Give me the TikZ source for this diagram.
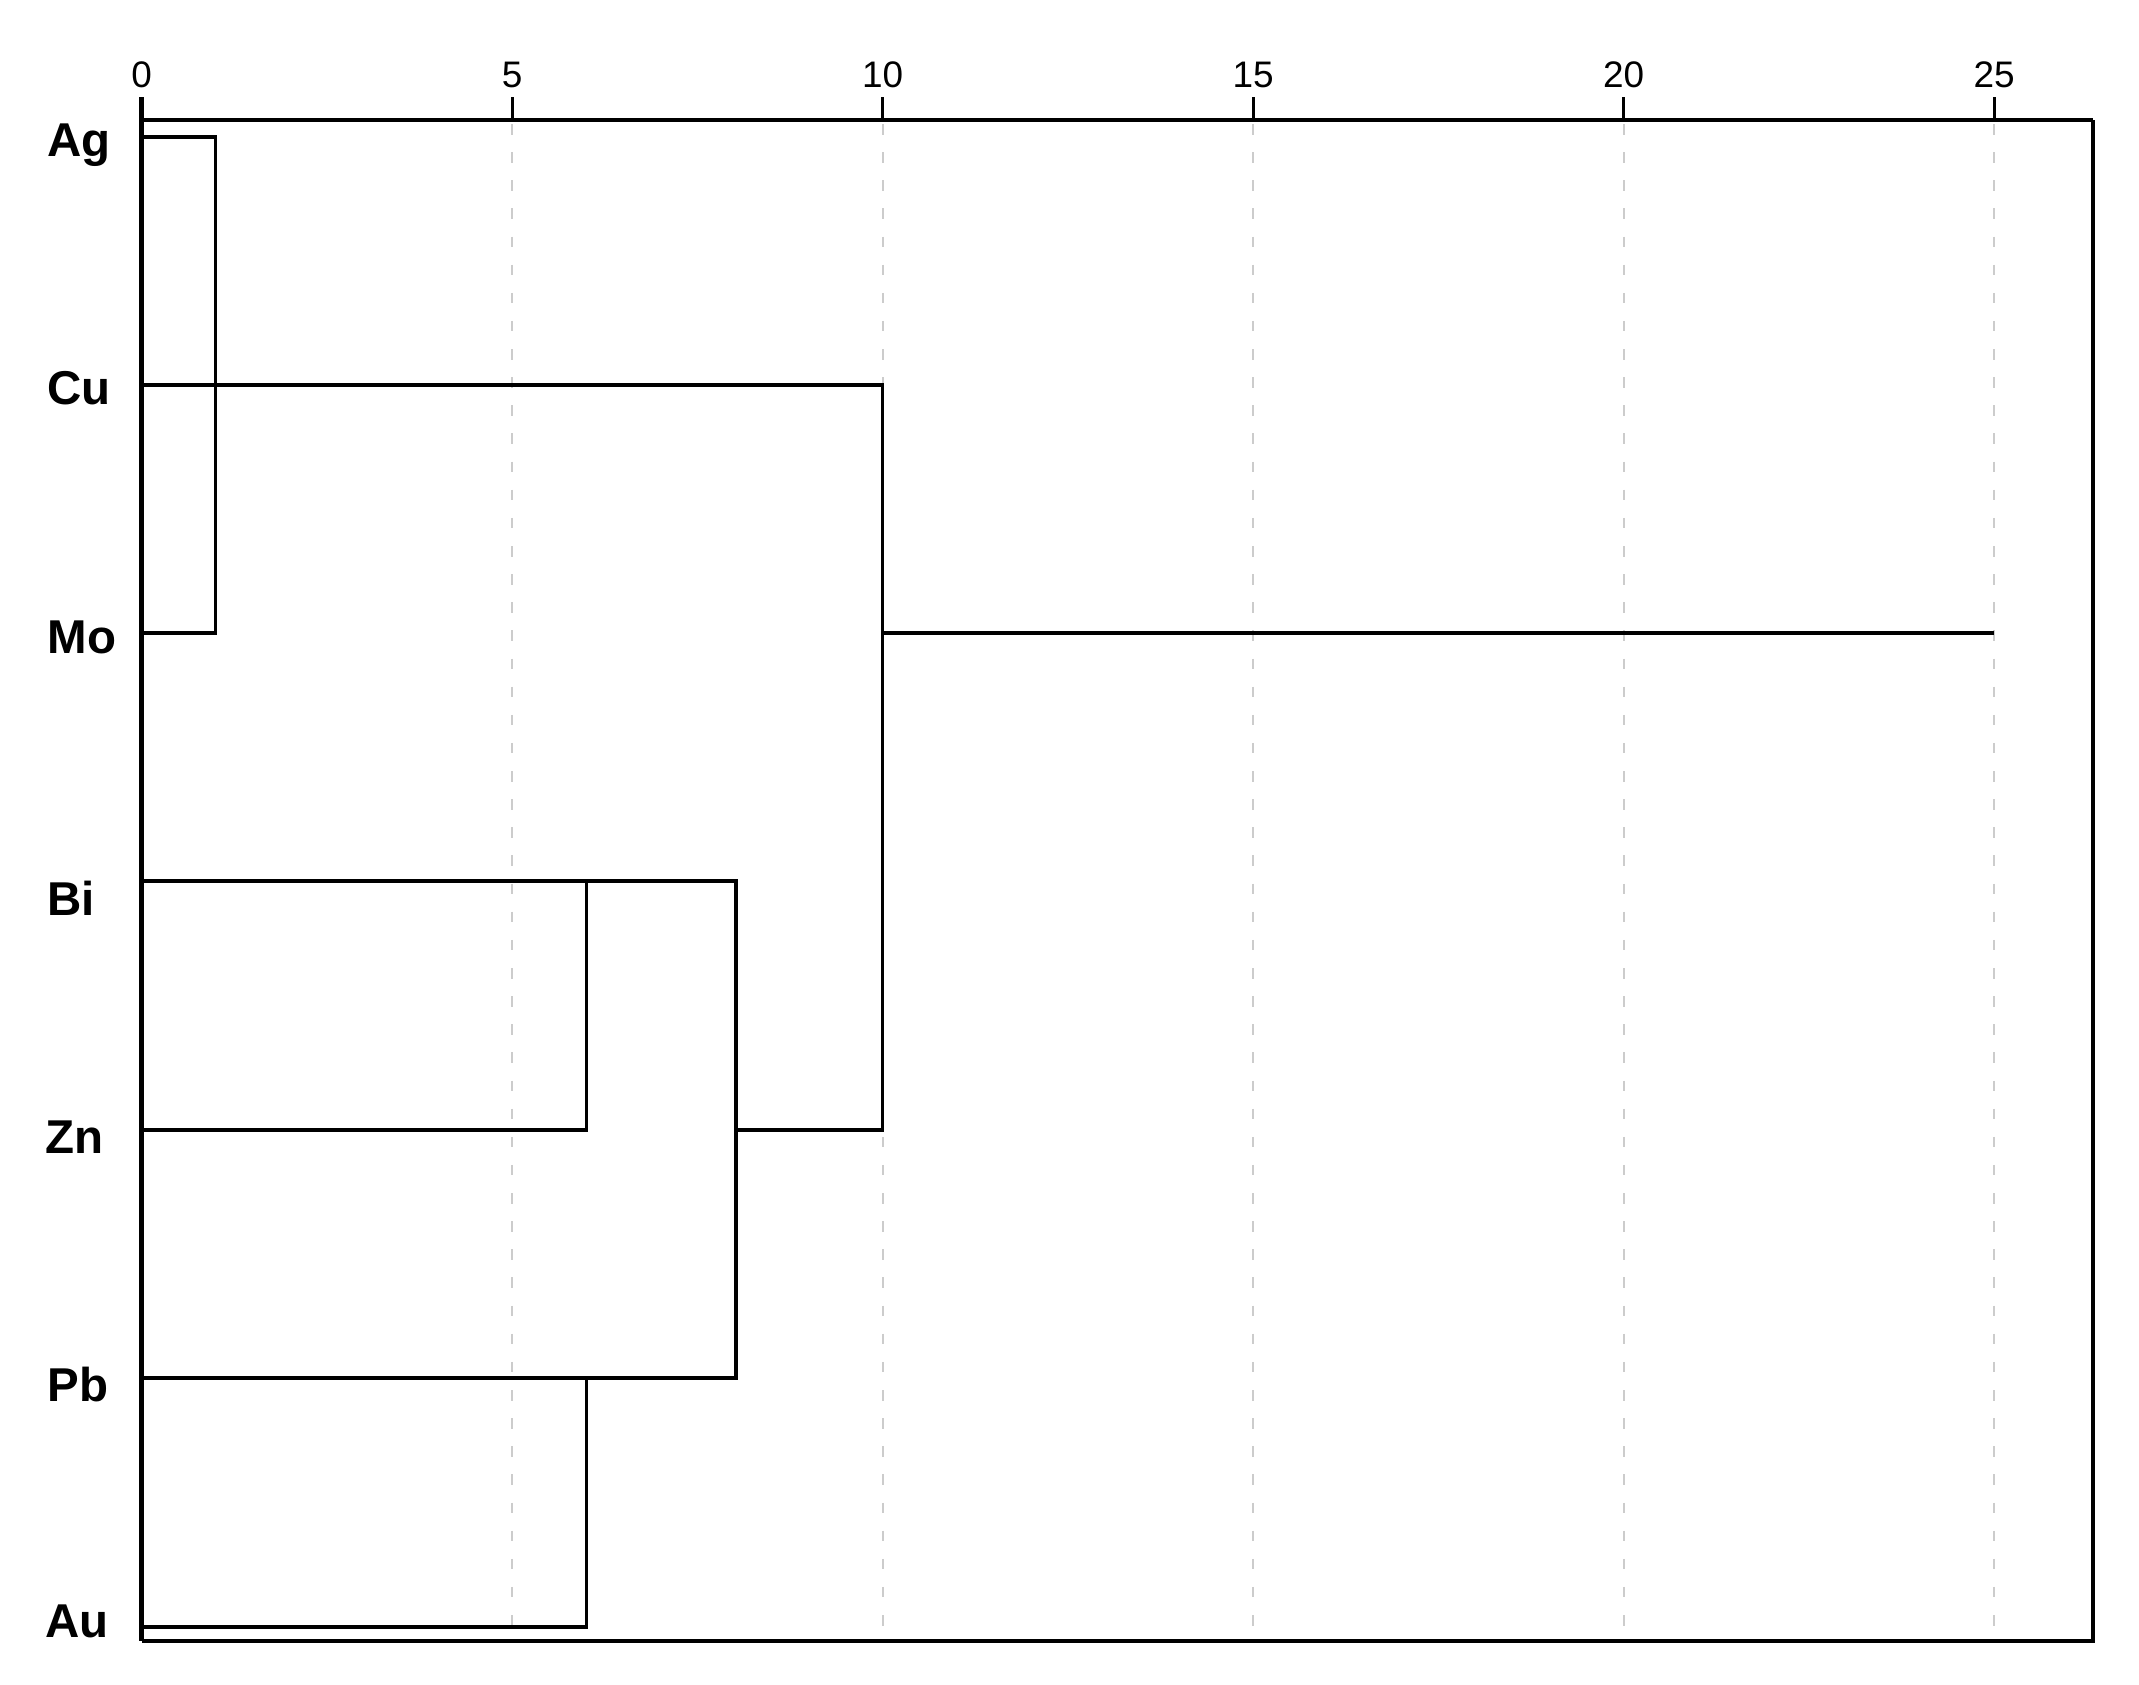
\documentclass[tikz,border=0pt]{standalone}
\usepackage{fontspec}
\setmainfont{Liberation Sans}
\begin{document}
\begin{tikzpicture}[x=0.01cm,y=-0.01cm,
  dend/.style={line width=0.9pt,black},
  trunk/.style={line width=1.1pt,black},
  frame/.style={line width=0.9pt,black},
  axisline/.style={line width=1.3pt,black},
  tickmark/.style={line width=0.8pt,black},
  gridline/.style={line width=0.55pt,black!20,dash pattern=on 3pt off 5pt},
  ticklabel/.style={anchor=base,inner sep=0pt,font=\fontsize{10.5pt}{12pt}\selectfont},
  leaflabel/.style={anchor=base west,inner sep=0pt,font=\fontsize{13.5pt}{15pt}\selectfont\bfseries}]
\useasboundingbox (0,0) rectangle (2139,1684);

% frame corners
\coordinate (TL) at (141.6,120);
\coordinate (TLtop) at (141.6,97);
\coordinate (TR) at (2093,120);
\coordinate (BR) at (2093,1641);
\coordinate (BL) at (141.6,1641);

% grid, ticks and tick labels
\foreach \v/\xx in {5/512.1,10/882.6,15/1253.1,20/1623.6,25/1994.1}{
  \coordinate (g\v top) at (\xx,124);
  \coordinate (g\v bot) at (\xx,1641);
  \draw[gridline] (g\v top) -- (g\v bot);
  \coordinate (t\v a) at (\xx,97);
  \coordinate (t\v b) at (\xx,120);
  \draw[tickmark] (t\v a) -- (t\v b);
  \node[ticklabel] (tl\v) at (\xx,87) {\v};
}
\node[ticklabel] (tl0) at (141.6,87) {0};

% frame and axis
\draw[frame] (TR) -- (BR) -- (BL);
\draw[axisline] (TLtop) -- (BL);
\draw[axisline] (TL) -- (TR);

% leaves
\coordinate (Ag) at (141.6,137);
\coordinate (Cu) at (141.6,385);
\coordinate (Mo) at (141.6,633);
\coordinate (Bi) at (141.6,881);
\coordinate (Zn) at (141.6,1130);
\coordinate (Pb) at (141.6,1378);
\coordinate (Au) at (141.6,1627);

% leaf labels
\node[leaflabel] (lAg) at (47,156) {Ag};
\node[leaflabel] (lCu) at (47,404) {Cu};
\node[leaflabel] (lMo) at (47,653) {Mo};
\node[leaflabel] (lBi) at (47,915) {Bi};
\node[leaflabel] (lZn) at (45,1153) {Zn};
\node[leaflabel] (lPb) at (47,1401) {Pb};
\node[leaflabel] (lAu) at (45,1637) {Au};

% merge points
\coordinate (k1) at (215.7,633);
\coordinate (k10) at (882.6,1130);
\coordinate (k8z) at (734.4,1130);
\coordinate (k10m) at (882.6,633);
\coordinate (k25) at (1994.1,633);
\coordinate (k8) at (736,1378);
\coordinate (k6a) at (586.2,881);
\coordinate (k6b) at (586.2,1378);

% dendrogram
\draw[dend] (Ag) -| (k1) -- (Mo);
\draw[dend] (Cu) -| (k10) -- (k8z);
\draw[trunk] (k10m) -- (k25);
\draw[dend] (Bi) -| (k8) -- (Pb);
\draw[dend] (k6a) |- (Zn);
\draw[dend] (k6b) |- (Au);
\end{tikzpicture}
\end{document}
